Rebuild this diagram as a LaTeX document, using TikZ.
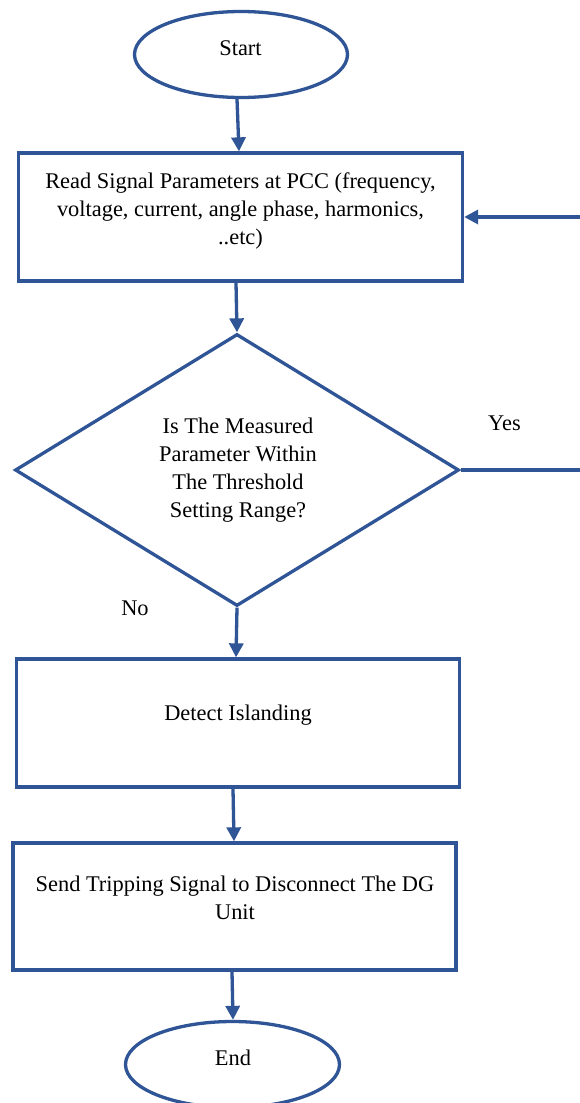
\documentclass[tikz,border=0pt]{standalone}
\usepackage{fontspec}
\setmainfont{Liberation Serif}
\usetikzlibrary{shapes.geometric,arrows.meta,calc}
\definecolor{fcblue}{RGB}{47,85,151}
\begin{document}
\begin{tikzpicture}[x=1pt,y=-1pt,
  every node/.style={font=\fontsize{22.4}{27.8}\selectfont},
  shp/.style={draw=fcblue,line width=3.3pt,inner sep=0pt},
  oval/.style={shp,ellipse},
  boxnode/.style={shp,rectangle},
  decide/.style={shp,diamond},
  txt/.style={align=center,inner sep=0pt},
  arr/.style={draw=fcblue,line width=3.3pt,-{Triangle[length=14pt,width=14pt]}},
  ln/.style={draw=fcblue,line width=3.3pt}]
\useasboundingbox (0,0) rectangle (580,1103);
\clip (0,0) rectangle (580,1103);
\fill[white] (0,0) rectangle (580,1103);
% shapes
\node[oval,minimum width=213pt,minimum height=86pt] (start) at (241,54.5) {};
\node[txt] (tstart) at (240.5,48) {Start};
\node[boxnode,minimum width=444pt,minimum height=128pt] (b1) at (240.5,217) {};
\node[txt] (tb1) at (240.5,211) {Read Signal Parameters at PCC (frequency,\\voltage, current, angle phase, harmonics,\\..etc)};
\node[decide,minimum width=444pt,minimum height=272pt] (dia) at (237,470) {};
\node[txt] (tdia) at (238,470) {Is The Measured\\Parameter Within\\The Threshold\\Setting Range?};
\node[boxnode,minimum width=443.5pt,minimum height=128pt] (b2) at (238,723) {};
\node[txt] (tb2) at (238,715) {Detect Islanding};
\node[boxnode,minimum width=443pt,minimum height=127pt] (b3) at (234.5,906.5) {};
\node[txt] (tb3) at (235,898) {Send Tripping Signal to Disconnect The DG\\Unit};
\node[oval,minimum width=214pt,minimum height=86pt] (endn) at (232.5,1064.5) {};
\node[txt] (tend) at (233,1058) {End};
% labels
\node[txt] (yes) at (504.5,423) {Yes};
\node[txt] (no) at (135,608) {No};
% connectors
\draw[arr] ([xshift=-4pt]start.south) -- ([xshift=-1.5pt]b1.north);
\draw[arr] ([xshift=-4.5pt]b1.south) -- (dia.north);
\draw[arr] (dia.south) -- ([xshift=-2pt]b2.north);
\draw[arr] ([xshift=-5pt]b2.south) -- ([xshift=-0.5pt]b3.north);
\draw[arr] ([xshift=-2.5pt]b3.south) -- ([xshift=0.5pt]endn.north);
\coordinate (fbr) at (592,217);
\draw[arr] (dia.east) -- (dia.east -| fbr) -- (fbr) -- (b1.east);
\end{tikzpicture}
\end{document}
